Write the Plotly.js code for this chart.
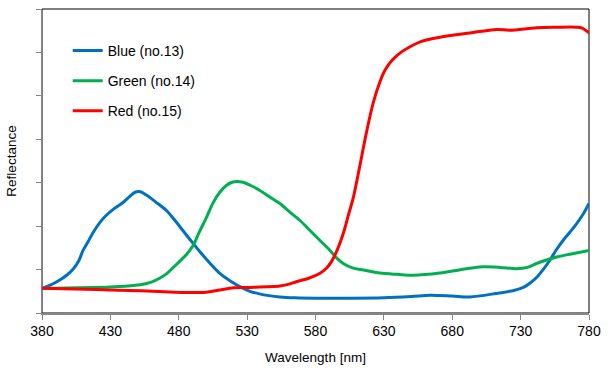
<!DOCTYPE html>
<html><head><meta charset="utf-8">
<script src="https://cdn.plot.ly/plotly-3.0.1.min.js"></script>
<style>body{margin:0;background:#fff}#c{width:612px;height:372px}</style>
</head><body><div id="c"></div>
<script>
const blueWl = [380,386,393,398,403,407,410,414,417.5,422,427,433,439.5,444,448,452,456.6,463,471,477,483,489,495.5,503,510,518,525,532,539,546,554,565,580,598,630,650,664,680,693,712,725,732,737,742,747,751.5,756,761,766,771,776,780];
const blueVal = [5.7,6.4,7.6,8.7,10.2,12.1,14.4,16.6,18.6,20.7,22.5,24.1,25.5,26.8,27.8,27.9,27.1,25.6,23.6,21.4,19.0,16.6,14.1,11.4,9.1,7.3,6.0,5.0,4.4,4.0,3.7,3.5,3.4,3.4,3.5,3.8,4.1,3.9,3.7,4.5,5.2,5.9,6.9,8.3,10.2,12.2,14.5,16.7,18.6,20.6,22.9,25.2];
const greenWl = [380,430,445,452,460,466,471,476,481,486,490.6,495,500.4,505,510,515,519,522.4,527,533,539.4,546,554,561,568.7,576,583.3,590.6,595,600.3,607,615,627,640,651.5,671,685,700,715,727,735,741.7,749,756.4,767,780];
const greenVal = [5.7,6.0,6.3,6.5,7.1,8.0,9.0,10.5,12.0,13.6,15.6,18.6,22.1,25.3,27.8,29.4,30.1,30.3,30.1,29.3,28.2,26.8,25.2,23.3,21.3,19.0,16.7,14.4,12.8,11.4,10.4,9.9,9.2,8.9,8.7,9.2,9.9,10.6,10.5,10.2,10.5,11.4,12.2,12.9,13.6,14.4];
const redWl = [380,420,452,488,500,510,520,530,554,560,566,575,583,588,592,596,600.3,604,607.6,612.5,617.4,622.3,627.2,631,636,642,651.5,657,669,693,712.5,722,741.7,756.4,771,775,780];
const redVal = [5.7,5.4,5.1,4.7,4.8,5.3,5.8,5.9,6.2,6.6,7.2,8.0,9.1,10.3,12.0,14.6,18.3,22.5,26.5,34.0,41.8,48.5,53.3,56.0,58.2,59.9,61.7,62.5,63.4,64.5,65.3,65.1,65.7,65.8,65.8,65.6,64.5];
const names = ["Blue (no.13)","Green (no.14)","Red (no.15)"];
const colors = ["#0070C0","#00B050","#FF0000"];
const xTicks = [380,430,480,530,580,630,680,730,780];

const series = [[blueWl,blueVal],[greenWl,greenVal],[redWl,redVal]];
const data = series.map((s,i)=>({
  x:s[0], y:s[1], type:'scatter', mode:'lines', name:names[i],
  legendgroup:'g'+i, line:{color:colors[i], width:3, shape:'spline', smoothing:0.85}
}));
const F = '"Liberation Sans", Arial, sans-serif';
const layout = {
  width:612, height:372,
  margin:{l:42, r:23, t:9, b:59},
  paper_bgcolor:'#fff', plot_bgcolor:'#fff',
  font:{family:F, color:'#000'},
  showlegend:true,
  legend:{x:0.047, y:0.915, xanchor:'left', yanchor:'top', bgcolor:'rgba(0,0,0,0)',
    font:{size:14, family:F}, tracegroupgap:9, itemwidth:30},
  xaxis:{range:[380,780], tickvals:xTicks, ticks:'outside', ticklen:5, tickcolor:'#868686',
    showline:true, linecolor:'#868686', linewidth:1.5, showgrid:false, zeroline:false,
    tickfont:{size:14}, title:{text:'Wavelength [nm]', font:{size:13.5}, standoff:14}},
  yaxis:{range:[0,70], dtick:10, ticks:'outside', ticklen:5, tickcolor:'#868686',
    showline:true, linecolor:'#868686', linewidth:1.5, showgrid:false, zeroline:false,
    showticklabels:false, title:{text:'Reflectance', font:{size:13.5}, standoff:16}},
  shapes:[{type:'rect', xref:'paper', yref:'paper', x0:0, x1:1, y0:0, y1:1,
    line:{color:'#000', width:1}, layer:'below'}]
};
Plotly.newPlot('c', data, layout, {staticPlot:true});
</script></body></html>
